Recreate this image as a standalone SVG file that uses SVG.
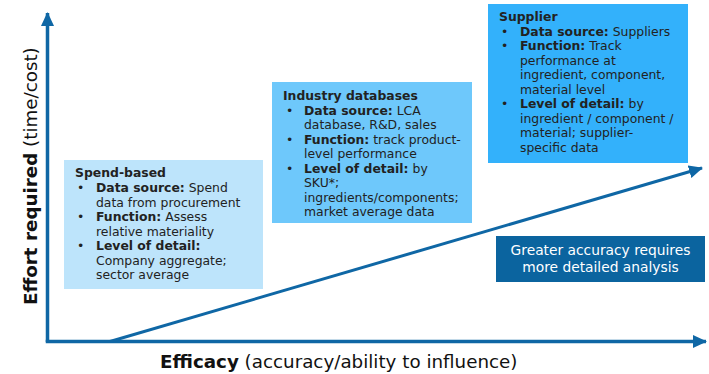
<svg xmlns="http://www.w3.org/2000/svg" width="709" height="374" viewBox="0 0 709 374">
  <style>
    text { font-family: "DejaVu Sans", Verdana, sans-serif; fill: #222222; }
    .box-text { font-size: 12.4px; }
    .b { font-weight: bold; }
    .axis { stroke: #0F67A5; stroke-width: 3.5; fill: none; }
    .trend { stroke: #0F67A5; stroke-width: 3; fill: none; }
    .axis-label { font-size: 18.3px; fill: #111111; }
  </style>
  <defs>
    <marker id="head" viewBox="0 0 14 13" refX="13" refY="6.5" markerWidth="14" markerHeight="13" markerUnits="userSpaceOnUse" orient="auto">
      <path d="M0,0 L14,6.5 L0,13 Z" fill="#0F67A5"/>
    </marker>
  </defs>

  <!-- axes and trend line -->
  <g id="connectors">
    <path class="axis" d="M47.5,342 L47.5,13" marker-end="url(#head)"/>
    <path class="axis" d="M45.75,341.5 L706,341.5" marker-end="url(#head)"/>
    <path class="trend" d="M110,341.5 L702,168" marker-end="url(#head)"/>
  </g>

  <!-- axis titles -->
  <text class="axis-label" transform="translate(37,305) rotate(-90)"><tspan class="b">Effort required</tspan> (time/cost)</text>
  <text class="axis-label" x="160" y="368"><tspan class="b">Efficacy</tspan> (accuracy/ability to influence)</text>

  <!-- spend-based approach -->
  <g id="spend-based">
    <rect x="64" y="160" width="199" height="129" fill="#BDE4FB"/>
    <text class="box-text">
      <tspan x="75" y="177" class="b">Spend-based</tspan>
      <tspan x="77" y="192">•</tspan><tspan x="96" y="192" class="b">Data source:</tspan><tspan> Spend</tspan>
      <tspan x="96" y="206.5">data from procurement</tspan>
      <tspan x="77" y="221">•</tspan><tspan x="96" y="221" class="b">Function:</tspan><tspan> Assess</tspan>
      <tspan x="96" y="235.5">relative materiality</tspan>
      <tspan x="77" y="250">•</tspan><tspan x="96" y="250" class="b">Level of detail:</tspan>
      <tspan x="96" y="264.5">Company aggregate;</tspan>
      <tspan x="96" y="279">sector average</tspan>
    </text>
  </g>

  <!-- industry databases approach -->
  <g id="industry-databases">
    <rect x="272" y="82" width="200" height="141" fill="#6EC8FB"/>
    <text class="box-text">
      <tspan x="283" y="100" class="b">Industry databases</tspan>
      <tspan x="286" y="114.5">•</tspan><tspan x="304" y="114.5" class="b">Data source:</tspan><tspan> LCA</tspan>
      <tspan x="304" y="129">database, R&amp;D, sales</tspan>
      <tspan x="286" y="143.5">•</tspan><tspan x="304" y="143.5" class="b">Function:</tspan><tspan> track product-</tspan>
      <tspan x="304" y="158">level performance</tspan>
      <tspan x="286" y="172.5">•</tspan><tspan x="304" y="172.5" class="b">Level of detail:</tspan><tspan> by</tspan>
      <tspan x="304" y="187">SKU*;</tspan>
      <tspan x="304" y="201.5">ingredients/components;</tspan>
      <tspan x="304" y="216">market average data</tspan>
    </text>
  </g>

  <!-- supplier approach -->
  <g id="supplier">
    <rect x="488" y="4" width="200" height="159" fill="#33B1FB"/>
    <text class="box-text">
      <tspan x="499" y="21" class="b">Supplier</tspan>
      <tspan x="501" y="35.5">•</tspan><tspan x="520" y="35.5" class="b">Data source:</tspan><tspan> Suppliers</tspan>
      <tspan x="501" y="50">•</tspan><tspan x="520" y="50" class="b">Function:</tspan><tspan> Track</tspan>
      <tspan x="520" y="64.5">performance at</tspan>
      <tspan x="520" y="79">ingredient, component,</tspan>
      <tspan x="520" y="93.5">material level</tspan>
      <tspan x="501" y="108">•</tspan><tspan x="520" y="108" class="b">Level of detail:</tspan><tspan> by</tspan>
      <tspan x="520" y="122.5">ingredient / component /</tspan>
      <tspan x="520" y="137">material; supplier-</tspan>
      <tspan x="520" y="151.5">specific data</tspan>
    </text>
  </g>

  <!-- takeaway callout -->
  <g id="callout">
    <rect x="496" y="236" width="209" height="46" fill="#0B649F"/>
    <text x="600.5" y="255" text-anchor="middle" font-size="13.8" style="fill:#FFFFFF">Greater accuracy requires</text>
    <text x="600.5" y="272" text-anchor="middle" font-size="13.8" style="fill:#FFFFFF">more detailed analysis</text>
  </g>
</svg>
